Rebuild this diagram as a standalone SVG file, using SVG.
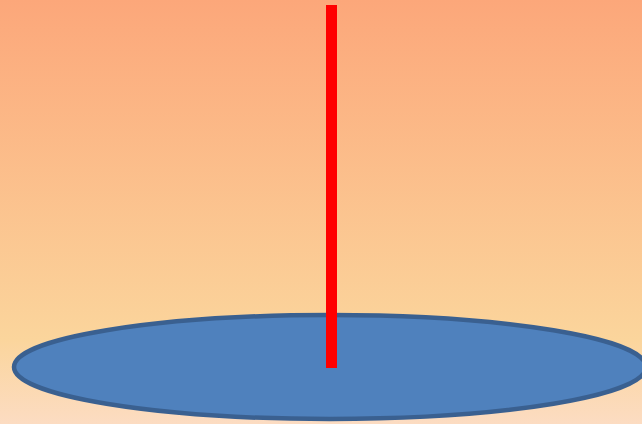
<svg xmlns="http://www.w3.org/2000/svg" width="642" height="424" viewBox="0 0 642 424">
<defs>
<linearGradient id="bg" x1="0" y1="0" x2="0" y2="1">
<stop offset="0" stop-color="#fca77a"/>
<stop offset="0.8" stop-color="#fbd59c"/>
<stop offset="1" stop-color="#fcdcc2"/>
</linearGradient>
</defs>
<rect x="0" y="0" width="642" height="424" fill="url(#bg)"/>
<ellipse id="disc" cx="330" cy="367" rx="316" ry="52" fill="#4f81bd" stroke="#3a6090" stroke-width="4.5"/>
<rect id="pole" x="326" y="5" width="11" height="363" fill="#ff0000"/>
</svg>
